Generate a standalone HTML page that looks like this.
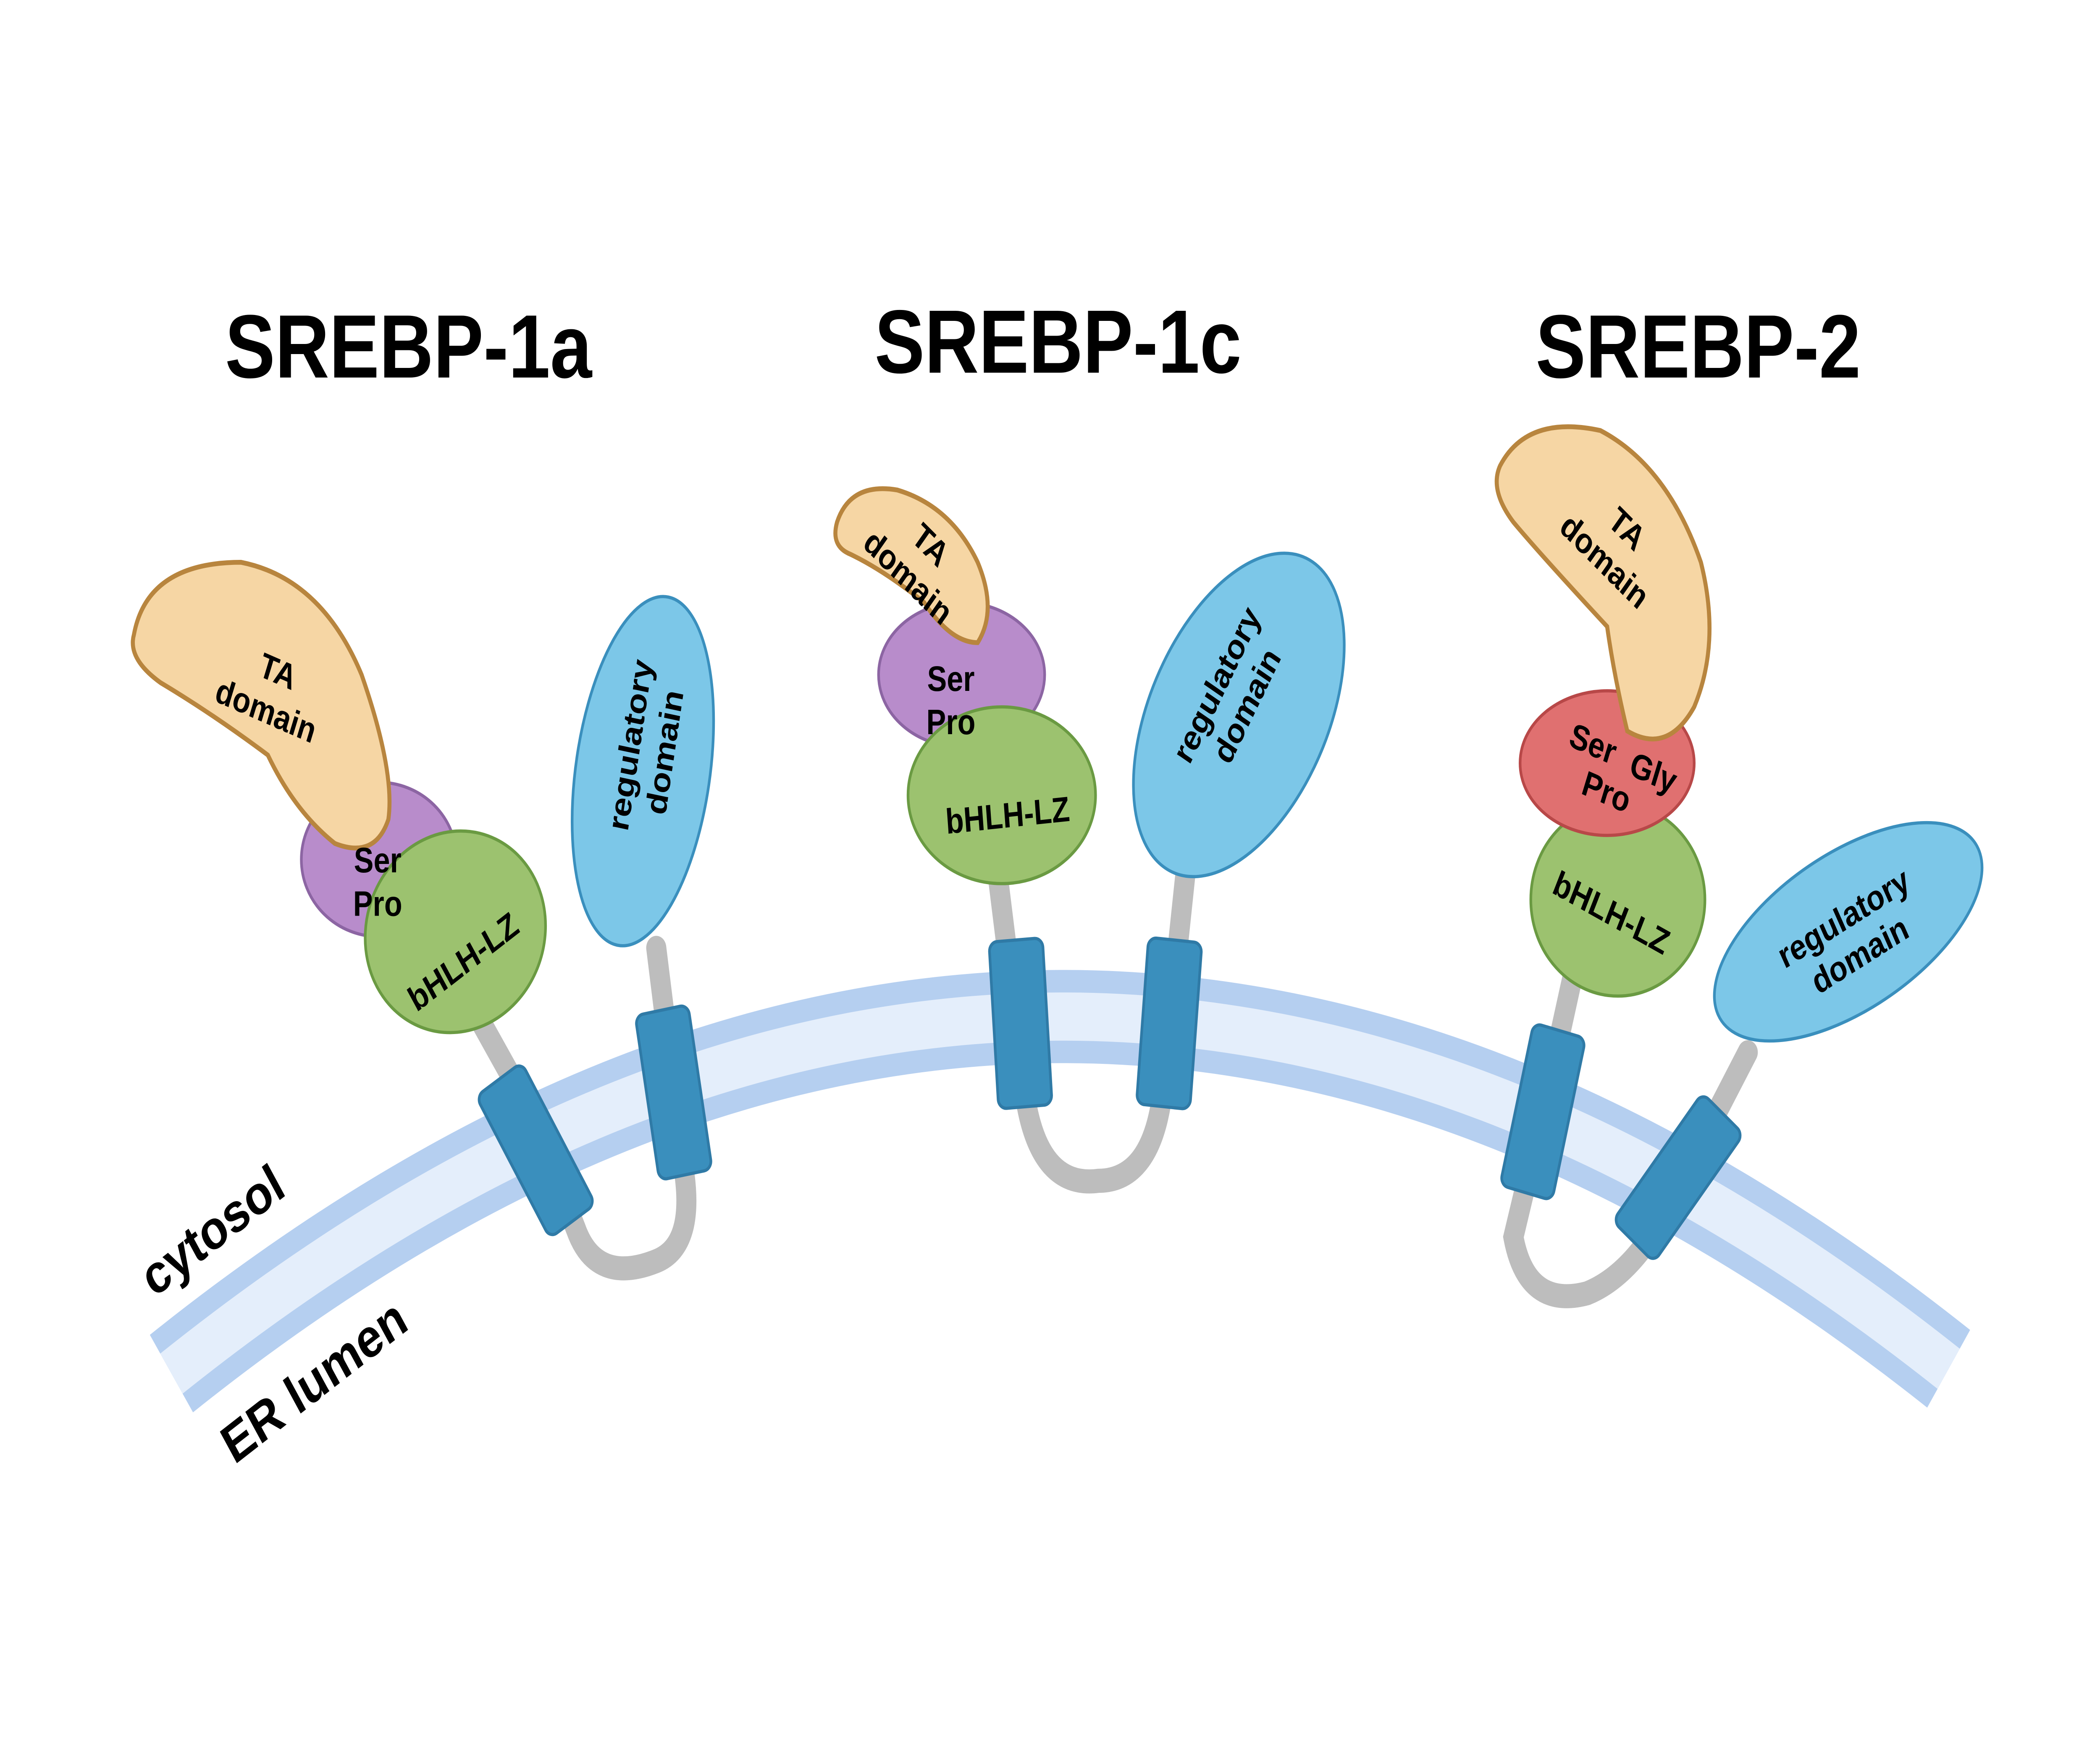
<!DOCTYPE html>
<html><head><style>html,body{margin:0;padding:0;background:#fff;width:100%;height:100%;overflow:hidden}svg{display:block;width:100vw;height:100vh}text{font-family:"Liberation Sans",Arial,sans-serif;font-style:normal}</style></head>
<body>
<svg viewBox="0 0 1568 1098" preserveAspectRatio="none" xmlns="http://www.w3.org/2000/svg">
<rect width="1568" height="1098" fill="#fff"/>
<path d="M128,855 Q791,412 1455,852" fill="none" stroke="#b5cff0" stroke-width="58"/>
<path d="M128,855 Q791,412 1455,852" fill="none" stroke="#e4eefb" stroke-width="30"/>
<text x="0" y="0" font-size="34" font-weight="bold" transform="translate(115,808) rotate(-33)">cytosol</text>
<text x="0" y="0" font-size="34" font-weight="bold" transform="translate(175,912) rotate(-33)">ER lumen</text>
<g font-size="56" font-weight="bold" text-anchor="middle" fill="#000">
<text x="305" y="235">SREBP-1a</text>
<text x="790" y="232">SREBP-1c</text>
<text x="1268" y="235">SREBP-2</text>
</g>
<g fill="none" stroke="#bdbdbd" stroke-width="15" stroke-linecap="round">
<path d="M355,630 L395,690 L430,765 Q445,800 490,785 Q520,775 510,725 L490,590"/>
<path d="M745,545 L765,680 Q775,740 820,735 Q860,735 868,680 L885,545"/>
<path d="M1175,605 L1150,700 L1130,770 Q1140,815 1185,805 Q1215,795 1240,760 L1305,655"/>
</g>
<g fill="#3a8fbd" stroke="#2f7aa6" stroke-width="2">
<rect x="-20" y="-52" width="40" height="104" rx="6" transform="translate(400,716) rotate(-32)"/>
<rect x="-20" y="-52" width="40" height="104" rx="6" transform="translate(503,680) rotate(-10)"/>
<rect x="-20" y="-52" width="40" height="104" rx="6" transform="translate(762,637) rotate(-4)"/>
<rect x="-20" y="-52" width="40" height="104" rx="6" transform="translate(873,637) rotate(5)"/>
<rect x="-20" y="-52" width="40" height="104" rx="6" transform="translate(1152,692) rotate(14)"/>
<rect x="-20" y="-52" width="40" height="104" rx="6" transform="translate(1253,733) rotate(40)"/>
</g>
<ellipse cx="283" cy="535" rx="58" ry="48" fill="#b88ccb" stroke="#8c65a3" stroke-width="2"/>
<ellipse cx="340" cy="580" rx="68" ry="62" transform="rotate(-20 340 580)" fill="#9cc26f" stroke="#6a9a42" stroke-width="2"/>
<path d="M100,395 Q110,350 180,350 Q240,360 270,420 Q295,480 290,510 Q280,535 250,525 Q220,505 200,470 Q160,445 120,425 Q95,410 100,395Z" fill="#f6d6a4" stroke="#b8853e" stroke-width="3"/>
<ellipse cx="480" cy="480" rx="50" ry="110" transform="rotate(10 480 480)" fill="#7cc7e8" stroke="#3a8fbd" stroke-width="2"/>
<ellipse cx="718" cy="420" rx="62" ry="45" fill="#b88ccb" stroke="#8c65a3" stroke-width="2"/>
<ellipse cx="748" cy="495" rx="70" ry="55" fill="#9cc26f" stroke="#6a9a42" stroke-width="2"/>
<path d="M625,325 Q635,300 670,305 Q710,315 730,350 Q745,380 730,400 Q710,400 690,375 Q660,355 635,345 Q620,340 625,325Z" fill="#f6d6a4" stroke="#b8853e" stroke-width="3"/>
<ellipse cx="925" cy="445" rx="65" ry="110" transform="rotate(30 925 445)" fill="#7cc7e8" stroke="#3a8fbd" stroke-width="2"/>
<ellipse cx="1208" cy="560" rx="65" ry="60" fill="#9cc26f" stroke="#6a9a42" stroke-width="2"/>
<ellipse cx="1200" cy="475" rx="65" ry="45" fill="#e07070" stroke="#b84848" stroke-width="2"/>
<path d="M1120,290 Q1140,258 1195,268 Q1245,290 1270,350 Q1285,400 1265,440 Q1245,470 1215,455 Q1205,420 1200,390 Q1150,345 1130,325 Q1112,305 1120,290Z" fill="#f6d6a4" stroke="#b8853e" stroke-width="3"/>
<ellipse cx="1380" cy="580" rx="110" ry="50" transform="rotate(-28 1380 580)" fill="#7cc7e8" stroke="#3a8fbd" stroke-width="2"/>
<g font-weight="bold" font-size="22" fill="#000" text-anchor="middle">
<text transform="translate(205,425) rotate(20)"><tspan x="0" y="0">TA</tspan><tspan x="0" y="26">domain</tspan></text>
<text x="282" y="543">Ser</text><text x="282" y="570">Pro</text>
<text transform="translate(350,605) rotate(-33)">bHLH-LZ</text>
<text transform="translate(478,465) rotate(-80)"><tspan x="0" y="0">regulatory</tspan><tspan x="0" y="26">domain</tspan></text>
<text transform="translate(690,345) rotate(40)"><tspan x="0" y="0">TA</tspan><tspan x="0" y="26">domain</tspan></text>
<text x="710" y="430">Ser</text><text x="710" y="457">Pro</text>
<text transform="translate(753,515) rotate(-5)">bHLH-LZ</text>
<text transform="translate(915,430) rotate(-60)"><tspan x="0" y="0">regulatory</tspan><tspan x="0" y="26">domain</tspan></text>
<text transform="translate(1210,335) rotate(40)"><tspan x="0" y="0">TA</tspan><tspan x="0" y="26">domain</tspan></text>
<text transform="translate(1187,470) rotate(20)">Ser</text>
<text transform="translate(1232,488) rotate(20)">Gly</text>
<text transform="translate(1197,500) rotate(20)">Pro</text>
<text transform="translate(1200,575) rotate(25)">bHLH-LZ</text>
<text transform="translate(1380,578) rotate(-28)"><tspan x="0" y="0">regulatory</tspan><tspan x="0" y="26">domain</tspan></text>
</g>
</svg>
</body></html>
